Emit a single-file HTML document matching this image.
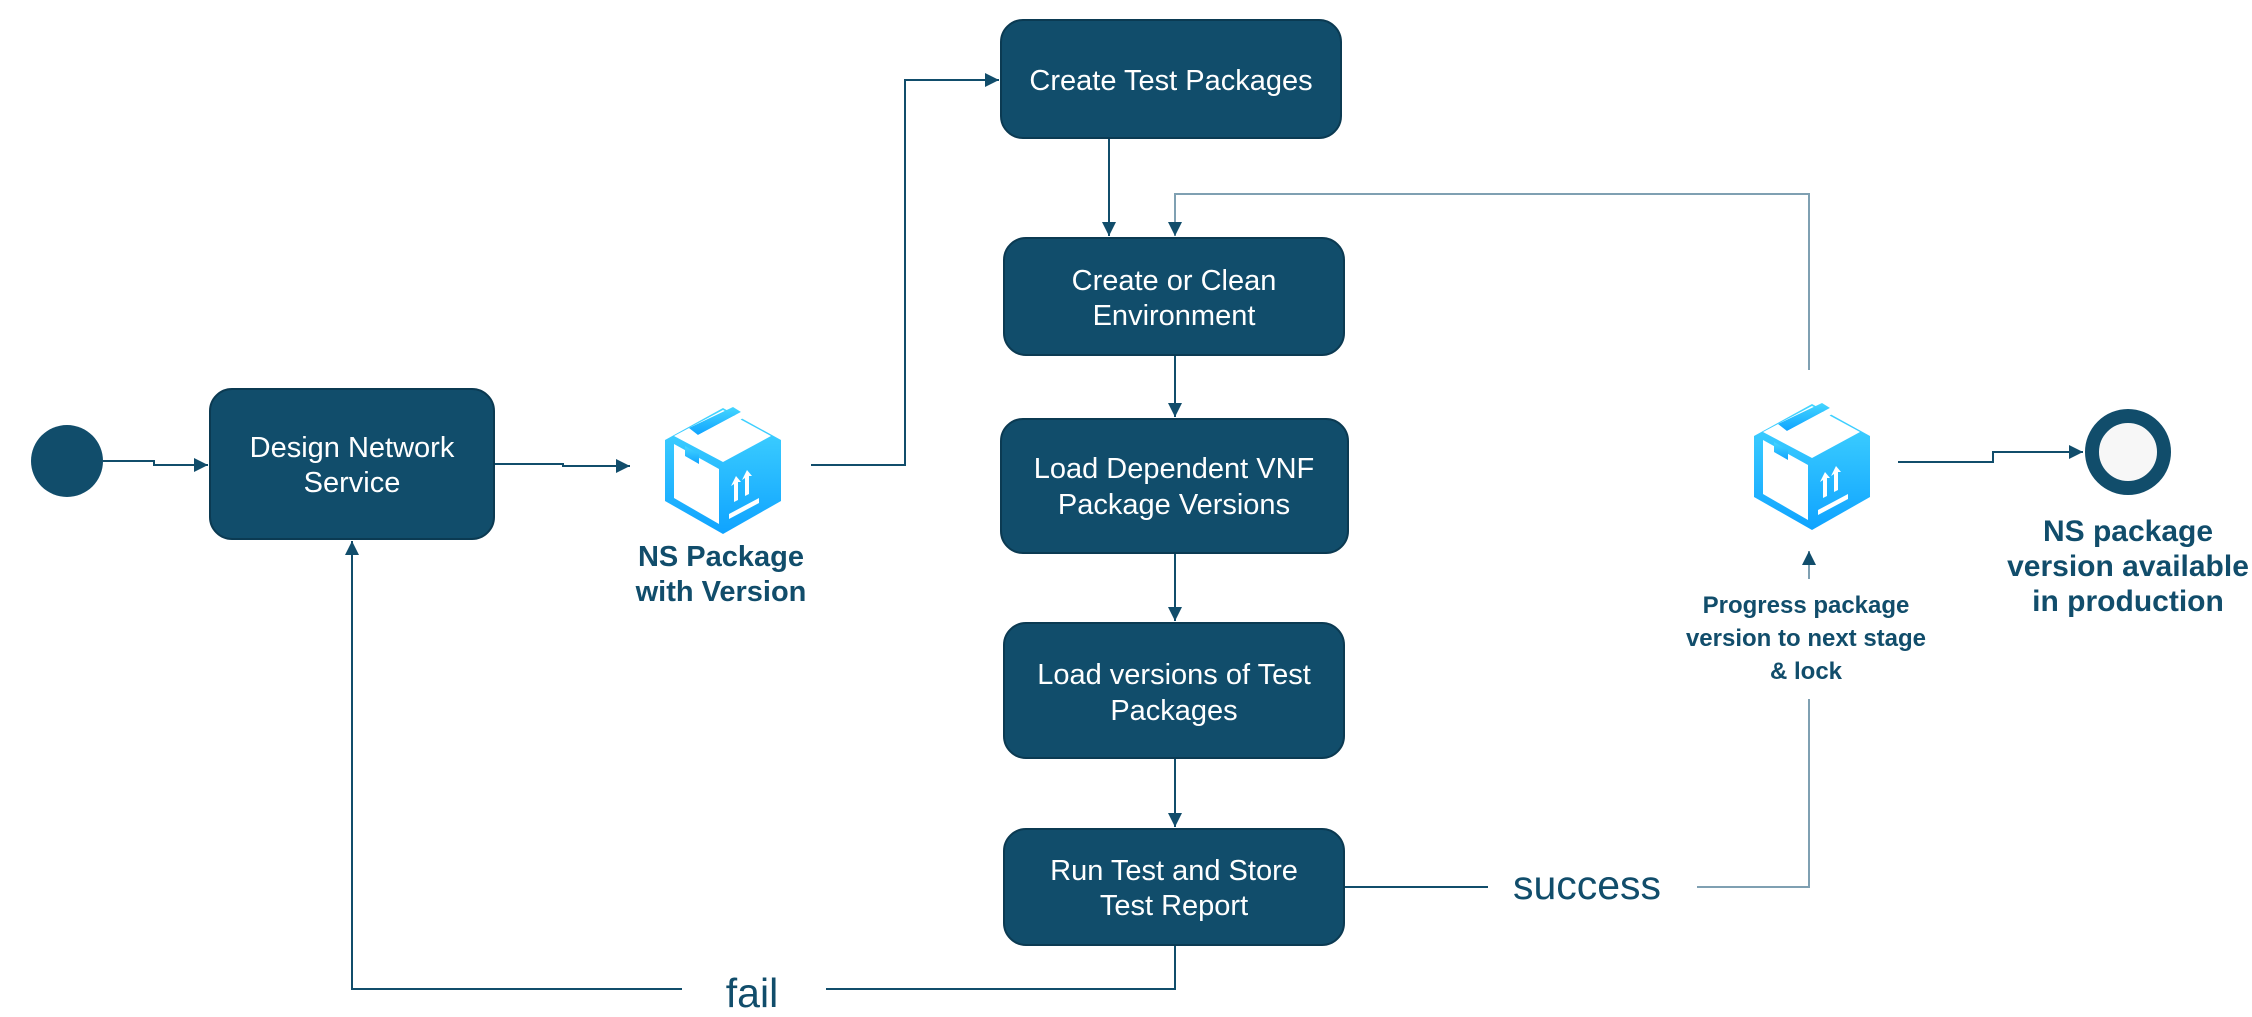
<!DOCTYPE html>
<html><head><meta charset="utf-8"><style>
html,body{margin:0;padding:0;background:#fff;}
svg{display:block;}
text{font-family:"Liberation Sans",Arial,sans-serif;}
</style></head><body>
<svg width="2252" height="1017" viewBox="0 0 2252 1017" xmlns="http://www.w3.org/2000/svg">
<defs>
<marker id="a" viewBox="0 0 10 10" refX="10" refY="5" markerWidth="14" markerHeight="14" markerUnits="userSpaceOnUse" orient="auto"><path d="M0,0L10,5L0,10z" fill="#114d6b"/></marker>
<linearGradient id="g" x1="0" y1="0" x2="0" y2="1"><stop offset="0" stop-color="#45d6ff"/><stop offset="1" stop-color="#0fa3ff"/></linearGradient>
<g id="pkg">
<path d="M60,2 L118,34 L118,95 L60,128 L2,95 L2,34 Z" fill="url(#g)"/>
<path d="M11,38 L56,63 L56,118 L11,92 Z" fill="#fff"/>
<path d="M11,30 L60,4 L108,30 L60,56 Z" fill="#fff"/>
<path d="M26,22 L70,1 L78,6 L35,29 Z" fill="url(#g)"/>
<path d="M35,29 L78,6 L84,10 L40,34 Z" fill="#fff"/>
<path d="M22,40 L36,48 L36,58 L29,54 L22,50 Z" fill="url(#g)"/>
<path d="M71,96 L71,78 L68,80 L73,70 L78,76 L75,76 L75,94 Z" fill="#fff"/>
<path d="M82,90 L82,72 L79,74 L84,64 L89,70 L86,70 L86,88 Z" fill="#fff"/>
<path d="M66,108 L96,92 L96,97 L66,113 Z" fill="#fff"/>
</g>
</defs>
<g fill="none" stroke="#114d6b" stroke-width="2">
<path d="M103,461 H154 V465 H208" marker-end="url(#a)"/>
<path d="M494,464 H563 V466 H630" marker-end="url(#a)"/>
<path d="M811,465 H905 V80 H999" marker-end="url(#a)"/>
<path d="M1109,138 V236" marker-end="url(#a)"/>
<path d="M1809,370 V194 H1175 V236" stroke="#7fa0b2" marker-end="url(#a)"/>
<path d="M1175,355 V417" marker-end="url(#a)"/>
<path d="M1175,553 V621" marker-end="url(#a)"/>
<path d="M1175,758 V827" marker-end="url(#a)"/>
<path d="M1344,887 H1488"/>
<path d="M1697,887 H1809 V699" stroke="#7fa0b2"/>
<path d="M1809,579 V551" stroke="#7fa0b2" marker-end="url(#a)"/>
<path d="M1898,462 H1993 V452 H2083" marker-end="url(#a)"/>
<path d="M1175,945 V989 H826"/>
<path d="M682,989 H352 V541" marker-end="url(#a)"/>
</g>
<ellipse cx="67" cy="461" rx="36" ry="36" fill="#114d6b"/>
<circle cx="2128" cy="452" r="36" fill="#f7f7f7" stroke="#114d6b" stroke-width="14"/>
<g fill="#114d6b" stroke="#0b3a52" stroke-width="2">
<rect x="210" y="389" width="284" height="150" rx="22"/>
<rect x="1001" y="20" width="340" height="118" rx="22"/>
<rect x="1004" y="238" width="340" height="117" rx="22"/>
<rect x="1001" y="419" width="347" height="134" rx="22"/>
<rect x="1004" y="623" width="340" height="135" rx="22"/>
<rect x="1004" y="829" width="340" height="116" rx="22"/>
</g>
<use href="#pkg" x="663" y="406"/>
<use href="#pkg" x="1752" y="402"/>
<g fill="#fff" font-size="29" text-anchor="middle">
<text x="352" y="457">Design Network</text><text x="352" y="492">Service</text>
<text x="1171" y="90">Create Test Packages</text>
<text x="1174" y="290">Create or Clean</text><text x="1174" y="325">Environment</text>
<text x="1174" y="478">Load Dependent VNF</text><text x="1174" y="514">Package Versions</text>
<text x="1174" y="684">Load versions of Test</text><text x="1174" y="720">Packages</text>
<text x="1174" y="880">Run Test and Store</text><text x="1174" y="915">Test Report</text>
</g>
<g fill="#114d6b" font-weight="bold" text-anchor="middle">
<text x="721" y="566" font-size="29">NS Package</text><text x="721" y="601" font-size="29">with Version</text>
<text x="1806" y="613" font-size="24">Progress package</text><text x="1806" y="646" font-size="24">version to next stage</text><text x="1806" y="679" font-size="24">&amp; lock</text>
<text x="2128" y="541" font-size="30">NS package</text><text x="2128" y="576" font-size="30">version available</text><text x="2128" y="611" font-size="30">in production</text>
</g>
<g fill="#114d6b" font-size="41" text-anchor="middle">
<text x="1587" y="899">success</text>
<text x="752" y="1007">fail</text>
</g>
</svg>
</body></html>
